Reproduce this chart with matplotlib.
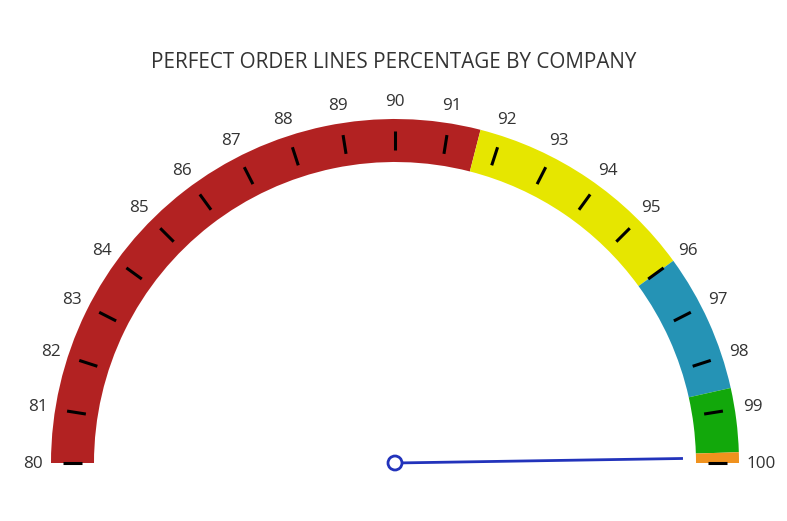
import numpy as np
import matplotlib
matplotlib.use('Agg')
import matplotlib.pyplot as plt
from matplotlib.patches import Wedge, Circle

# gauge data
band_edges = [80, 91.6, 96.0, 98.6, 99.8, 100]
band_colors = ['#b22222', '#e6e600', '#2593b5', '#12a80b', '#f0921e']
tick_values = list(range(80, 101))
needle_value = 99.9
title = 'PERFECT ORDER LINES PERCENTAGE BY COMPANY'

plt.rcParams['font.family'] = ['Open Sans', 'DejaVu Sans']

W, H = 787, 521
fig = plt.figure(figsize=(W / 100, H / 100), dpi=100)
ax = fig.add_axes([0, 0, 1, 1])
ax.set_xlim(0, W)
ax.set_ylim(0, H)
ax.axis('off')

cx, cy = 395, H - 463
r_out, r_in = 344, 301


def ang(v):
    return 180 - (v - 80) * 9


for (a, b), col in zip(zip(band_edges[:-1], band_edges[1:]), band_colors):
    ax.add_patch(Wedge((cx, cy), r_out, ang(b), ang(a), width=r_out - r_in,
                       facecolor=col, edgecolor='none'))

for v in tick_values:
    t = np.radians(ang(v))
    ax.plot([cx + 313 * np.cos(t), cx + 332 * np.cos(t)],
            [cy + 313 * np.sin(t), cy + 332 * np.sin(t)],
            color='black', lw=2.2, solid_capstyle='butt')
    lab = str(v)
    rl = 362 + (4 if len(lab) == 3 else 0)
    ax.text(cx + rl * np.cos(t), cy + rl * np.sin(t) - 1, lab,
            ha='center', va='center', fontsize=12.3, color='#333333')

t = np.radians(ang(needle_value))
ax.plot([cx, cx + 288 * np.cos(t)], [cy, cy + 288 * np.sin(t)],
        color='#2233bb', lw=2, solid_capstyle='butt')
ax.add_patch(Circle((cx, cy), 7, facecolor='white', edgecolor='#2233bb', lw=2, zorder=5))

ax.text(W / 2, H - 62, title, ha='center', va='center',
        fontsize=14.9, color='#333333')

fig.savefig('out.png', dpi=100)
